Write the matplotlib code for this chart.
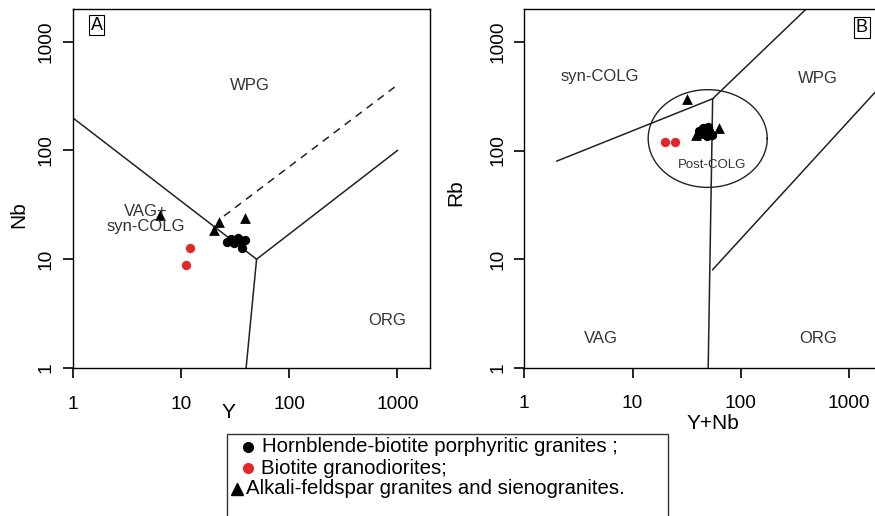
import numpy as np
import matplotlib.pyplot as plt
from matplotlib.lines import Line2D
from matplotlib.patches import Rectangle

plt.rcParams['font.family'] = ['Liberation Sans', 'DejaVu Sans']

# sample data (ppm)
hb_y = [26.7, 29.1, 33.5, 36.0, 39.4, 36.5, 31.2]
hb_nb = [14.5, 15.5, 15.8, 14.7, 15.0, 12.7, 14.2]
hb_rb = [150, 160, 165, 150, 140, 135, 145]

bt_y = [12.1, 11.2]
bt_nb = [12.8, 8.8]
bt_rb = [121, 121]

af_y = [6.4, 22.7, 20.4, 39.4]
af_nb = [25.3, 22.1, 18.5, 23.8]
af_rb = [300, 145, 140, 160]

# Pearce et al. (1984) field boundaries
nb_y_solid = [
    ([1, 50], [200, 10]),
    ([50, 1000], [10, 100]),
    ([50, 40], [10, 1]),
]
nb_y_dashed = ([25, 1000], [25, 400])

rb_ynb_solid = [
    ([2, 55], [80, 300]),
    ([55, 400], [300, 2000]),
    ([50, 55], [1, 300]),
    ([55, 2000], [8, 400]),
]
# post-COLG field: ellipse in log space (centre, half-axes in decades)
post_colg = dict(cx=49.5, cy=129, ax=0.55, ay=0.45)

red = '#e3262a'
ticks = [1, 10, 100, 1000]

fig = plt.figure(figsize=(8.75, 5.16), dpi=100)
axA = fig.add_axes([0.0831, 0.2868, 0.4083, 0.6958])
axB = fig.add_axes([0.5992, 0.2874, 0.4083, 0.6946])


def style_axis(ax):
    ax.set_xscale('log')
    ax.set_yscale('log')
    ax.set_xlim(1, 2000)
    ax.set_ylim(1, 2000)
    ax.set_xticks(ticks)
    ax.set_xticklabels([str(t) for t in ticks])
    ax.set_yticks(ticks)
    ax.set_yticklabels([str(t) for t in ticks], rotation=90, va='center')
    ax.minorticks_off()
    ax.tick_params(axis='x', length=7, width=1.2, pad=13, labelsize=13.8)
    ax.tick_params(axis='y', length=7, width=1.2, pad=6, labelsize=13.8)
    for s in ax.spines.values():
        s.set_linewidth(1.0)


def plot_points(ax, xs, ys):
    ax.scatter(xs[0], ys[0], s=45, marker='o', color='black', zorder=3, linewidths=0)
    ax.scatter(xs[1], ys[1], s=45, marker='o', color=red, zorder=3, linewidths=0)
    ax.scatter(xs[2], ys[2], s=60, marker='^', color='black', zorder=3, linewidths=0)


# ---- panel A: Nb vs Y
style_axis(axA)
for xs, ys in nb_y_solid:
    axA.plot(xs, ys, color='#222222', lw=1.1)
axA.plot(*nb_y_dashed, color='#222222', lw=1.1, ls=(0, (5, 4)))
plot_points(axA, [hb_y, bt_y, af_y], [hb_nb, bt_nb, af_nb])
axA.text(43, 400, 'WPG', ha='center', va='center', fontsize=12, color='#333333')
axA.text(4.73, 23.3, 'VAG+\nsyn-COLG', ha='center', va='center', fontsize=12,
         color='#333333', linespacing=1.0)
axA.text(800, 2.72, 'ORG', ha='center', va='center', fontsize=12, color='#333333')
axA.text(0.067, 0.955, 'A', transform=axA.transAxes, ha='center', va='center', fontsize=13,
         bbox=dict(boxstyle='square,pad=0.1', fc='white', ec='black', lw=0.8))
axA.set_xlabel('Y', fontsize=15)
axA.set_ylabel('Nb', fontsize=15)
axA.xaxis.set_label_coords(0.4347, -0.097)
axA.yaxis.set_label_coords(-0.125, 0.426)

# ---- panel B: Rb vs Y+Nb
style_axis(axB)
for xs, ys in rb_ynb_solid:
    axB.plot(xs, ys, color='#222222', lw=1.1)
t = np.linspace(0, 2 * np.pi, 200)
axB.plot(10 ** (np.log10(post_colg['cx']) + post_colg['ax'] * np.cos(t)),
         10 ** (np.log10(post_colg['cy']) + post_colg['ay'] * np.sin(t)),
         color='#222222', lw=1.0)
ynb = [np.add(hb_y, hb_nb), np.add(bt_y, bt_nb), np.add(af_y, af_nb)]
plot_points(axB, ynb, [hb_rb, bt_rb, af_rb])
axB.text(4.95, 478, 'syn-COLG', ha='center', va='center', fontsize=12, color='#333333')
axB.text(513, 463, 'WPG', ha='center', va='center', fontsize=12, color='#333333')
axB.text(53.8, 73, 'Post-COLG', ha='center', va='center', fontsize=9.5, color='#333333')
axB.text(5.13, 1.84, 'VAG', ha='center', va='center', fontsize=12, color='#333333')
axB.text(519, 1.84, 'ORG', ha='center', va='center', fontsize=12, color='#333333')
axB.text(0.945, 0.95, 'B', transform=axB.transAxes, ha='center', va='center', fontsize=13,
         bbox=dict(boxstyle='square,pad=0.1', fc='white', ec='black', lw=0.8))
axB.set_xlabel('Y+Nb', fontsize=15)
axB.set_ylabel('Rb', fontsize=15)
axB.xaxis.set_label_coords(0.528, -0.13)
axB.yaxis.set_label_coords(-0.165, 0.487)

# ---- legend box (bottom edge runs off the figure)
fig.add_artist(Rectangle((227 / 875, -0.05), 440.7 / 875, 0.05 + 1 - 434 / 516,
                         transform=fig.transFigure, fill=False, ec='#333333', lw=1.0))
legend_rows = [
    ('o', 'black', 248, 447, 'Hornblende-biotite porphyritic granites ;', 262),
    ('o', red, 248, 468, 'Biotite granodiorites;', 261),
    ('^', 'black', 237, 489, 'Alkali-feldspar granites and sienogranites.', 246),
]
for marker, color, mx, my, label, tx in legend_rows:
    fig.add_artist(Line2D([mx / 875], [1 - my / 516], marker=marker, color=color,
                          markersize=8.5 if marker == '^' else 7, ls='none',
                          transform=fig.transFigure))
    fig.text(tx / 875, 1 - my / 516, label, ha='left', va='center', fontsize=14.7)

fig.savefig('out.png', dpi=100)
